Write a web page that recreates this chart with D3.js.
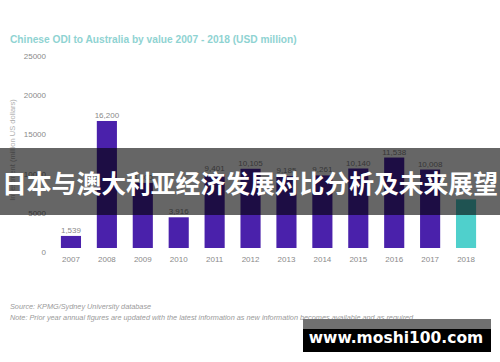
<!DOCTYPE html>
<html>
<head>
<meta charset="utf-8">
<script src="https://cdn.jsdelivr.net/npm/d3@7"></script>
<style>
    html, body { margin: 0; padding: 0; background: #fff; }
    svg { display: block; }
</style>
</head>
<body>
<svg id="chart" width="500" height="362"></svg>
<script>
// Dades del gràfic
var years = ['2007', '2008', '2009', '2010', '2011', '2012', '2013', '2014', '2015', '2016', '2017', '2018'];
var values = [1539, 16200, 8300, 3916, 9401, 10105, 9185, 9261, 10140, 11538, 10008, 6200];
var valueLabels = ['1,539', '16,200', '8,300', '3,916', '9,401', '10,105', '9,185', '9,261', '10,140', '11,538', '10,008', '6,200'];
var yTicks = [0, 5000, 10000, 15000, 20000, 25000];

var title = 'Chinese ODI to Australia by value 2007 - 2018 (USD million)';
var yTitle = 'Investment (million US dollars)';
var sourceText = 'Source: KPMG/Sydney University database';
var noteText = 'Note: Prior year annual figures are updated with the latest information as new information becomes available and as required';
var bannerText = '日本与澳大利亚经济发展对比分析及未来展望';
var watermark = 'www.moshi100.com';

var svg = d3.select('#chart');
var font = '"Liberation Sans", Arial, sans-serif';

// Escales
var x = d3.scaleBand().domain(years).range([53, 484]).paddingInner(0.44).paddingOuter(0.22);
var y = d3.scaleLinear().domain([0, 25000]).range([248, 52]);

// Títol
svg.append('text').attr('x', 10).attr('y', 43).text(title)
    .style('font-family', font).style('font-size', '10.2px').style('font-weight', 'bold')
    .style('fill', '#8fd3d2');

// Eix Y (només etiquetes)
var yAxis = svg.append('g').attr('transform', 'translate(46,4)')
    .call(d3.axisLeft(y).tickValues(yTicks).tickFormat(d3.format('d')).tickSize(0).tickPadding(0));
yAxis.select('.domain').remove();
yAxis.selectAll('text').style('font-family', font).style('font-size', '8px').style('fill', '#8a8a8a');

svg.append('text').attr('transform', 'translate(15,150) rotate(-90)').attr('text-anchor', 'middle')
    .text(yTitle).style('font-family', font).style('font-size', '7.5px').style('fill', '#b0b0b0');

// Eix X
var xAxis = svg.append('g').attr('transform', 'translate(0,253)')
    .call(d3.axisBottom(x).tickSize(0).tickPadding(3));
xAxis.select('.domain').remove();
xAxis.selectAll('text').style('font-family', font).style('font-size', '8px').style('fill', '#8a8a8a');

// Barres
svg.selectAll('rect.bar').data(values).enter().append('rect')
    .attr('class', 'bar')
    .attr('x', function (d, i) { return x(years[i]); })
    .attr('y', function (d) { return y(d); })
    .attr('width', x.bandwidth())
    .attr('height', function (d) { return y(0) - y(d); })
    .style('fill', function (d, i) { return years[i] == '2018' ? '#4fd0cc' : '#4a21ab'; });

// Etiquetes de valor
svg.selectAll('text.val').data(values).enter().append('text')
    .attr('class', 'val')
    .attr('x', function (d, i) { return x(years[i]) + x.bandwidth() / 2; })
    .attr('y', function (d) { return y(d) - 3; })
    .attr('text-anchor', 'middle')
    .text(function (d, i) { return years[i] == '2018' ? '' : valueLabels[i]; })
    .style('font-family', font).style('font-size', '8px').style('fill', '#8a8a8a');

// Font i nota
svg.append('text').attr('x', 10).attr('y', 309).text(sourceText)
    .style('font-family', font).style('font-size', '7.3px').style('font-style', 'italic').style('fill', '#9a9a9a');
svg.append('text').attr('x', 10).attr('y', 320).text(noteText)
    .style('font-family', font).style('font-size', '7.3px').style('font-style', 'italic').style('fill', '#9a9a9a');

// Bàner superposat
svg.append('rect').attr('x', 0).attr('y', 148).attr('width', 500).attr('height', 67)
    .style('fill', 'rgba(0,0,0,0.6)');
svg.append('text').attr('x', 250).attr('y', 193).attr('text-anchor', 'middle').text(bannerText)
    .style('font-family', '"Noto Sans CJK SC", sans-serif').style('font-size', '24.8px').style('font-weight', 'bold')
    .style('fill', '#fff');

// Marca d'aigua
svg.append('rect').attr('x', 303).attr('y', 319).attr('width', 188).attr('height', 10).style('fill', '#707070');
svg.append('rect').attr('x', 303).attr('y', 329).attr('width', 188).attr('height', 23).style('fill', '#000');
svg.append('text').attr('x', 396).attr('y', 343).attr('text-anchor', 'middle').text(watermark)
    .style('font-family', '"DejaVu Sans", sans-serif').style('font-size', '15.5px').style('font-weight', 'bold')
    .style('fill', '#fff');
</script>
</body>
</html>
